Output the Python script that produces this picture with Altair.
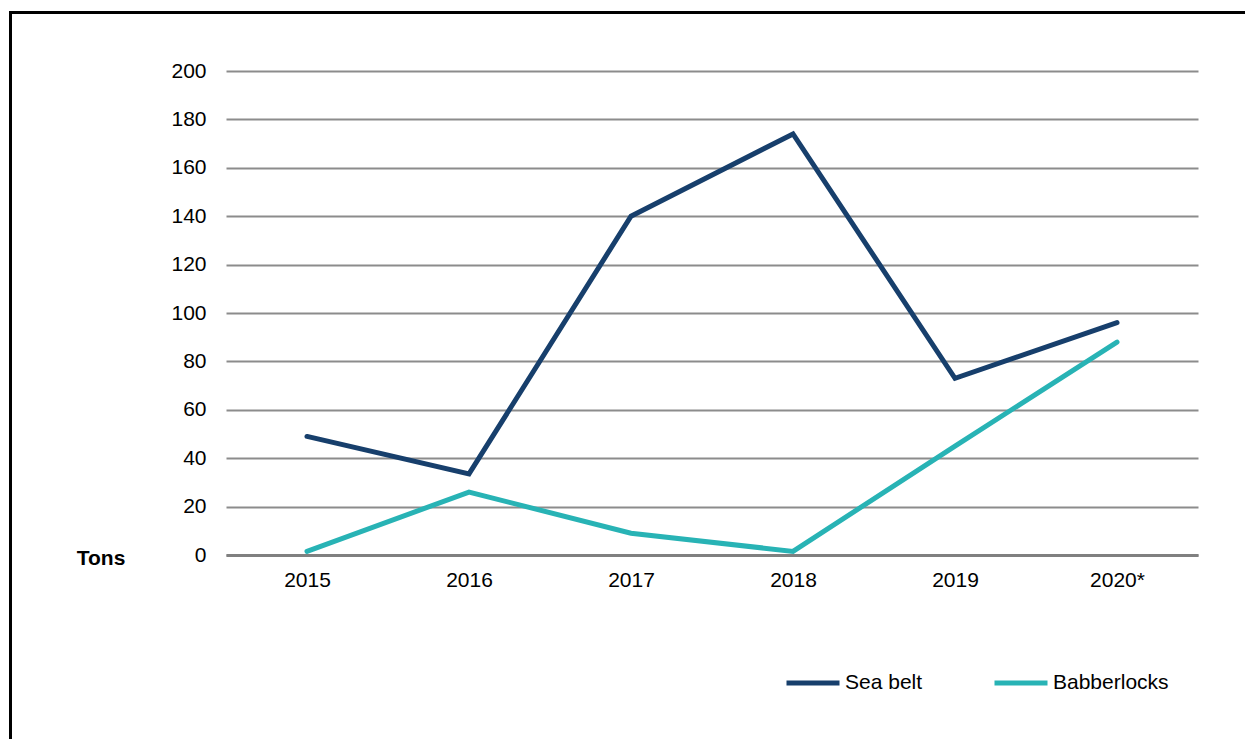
import altair as alt
import pandas as pd

years = ["2015", "2016", "2017", "2018", "2019", "2020*"]
sea_belt = [49, 33.5, 140, 174, 73, 96]
babberlocks = [1.5, 26, 9, 1.5, 45, 88]
series_names = ["Sea belt", "Babberlocks"]
series_colors = ["#173f6c", "#28b3b5"]
y_ticks = [0, 20, 40, 60, 80, 100, 120, 140, 160, 180, 200]

rows = []
for name, vals in zip(series_names, [sea_belt, babberlocks]):
    for yr, v in zip(years, vals):
        rows.append({"Year": yr, "Tons": v, "Series": name})
df = pd.DataFrame(rows)

FS = 21

lines = alt.Chart(df).mark_line(strokeWidth=5, strokeCap="round", strokeJoin="miter").encode(
    x=alt.X("Year:O", sort=years,
            scale=alt.Scale(type="point", padding=0.5),
            axis=alt.Axis(title=None, labelAngle=0, ticks=False, domain=True,
                          domainColor="#808080", domainWidth=3,
                          labelPadding=14, labelFontSize=FS, labelColor="#000000",
                          labelFont="Liberation Sans", grid=False)),
    y=alt.Y("Tons:Q",
            scale=alt.Scale(domain=[0, 200], nice=False),
            axis=alt.Axis(values=y_ticks, title="Tons", titleAngle=0, titleX=-125.5, titleY=487,
                          titleAlign="center", titleBaseline="middle", titleFontSize=FS,
                          titleFont="Liberation Sans", titleFontWeight="bold", titleColor="#000000",
                          ticks=False, domain=False, labelPadding=20, labelFontSize=FS,
                          labelColor="#000000", labelFont="Liberation Sans",
                          grid=True, gridColor="#8c8c8c", gridWidth=2)),
    color=alt.Color("Series:N", sort=series_names,
                    scale=alt.Scale(domain=series_names, range=series_colors),
                    legend=alt.Legend(title=None, orient="none", legendX=558, legendY=583,
                                      direction="horizontal", symbolType="stroke",
                                      symbolSize=2809, symbolStrokeWidth=5,
                                      labelOffset=3, labelFontSize=FS, labelFont="Liberation Sans",
                                      labelColor="#000000", columnPadding=61)),
)

border = alt.Chart(alt.Data(values=[{"a": 1}])).mark_rect(
    fill=None, fillOpacity=0, stroke="#000000", strokeWidth=3
).encode(
    x=alt.value(-215.5), x2=alt.value(1200), y=alt.value(-58.5), y2=alt.value(900)
)

chart = alt.layer(border, lines).properties(
    width=972, height=484,
    autosize=alt.AutoSizeParams(type="none"),
    padding={"left": 218, "top": 63, "right": 47, "bottom": 184},
).configure(background="white", view={"stroke": None})

chart.save("out.html", embed_options={"renderer": "svg", "actions": False})
